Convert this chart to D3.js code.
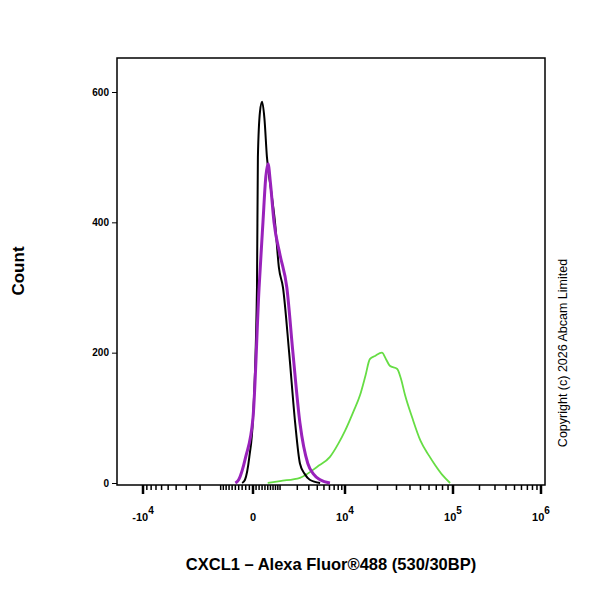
<!DOCTYPE html><html><head><script src="https://cdn.jsdelivr.net/npm/d3@7"></script>
<style>body{margin:0;background:#fff}</style></head><body><svg id="c" width="600" height="600"></svg><script>
const blackSeries=[[-300,0],[-220,5],[-100,40],[0,100],[130,300],[160,500],[230,570],[300,585],[380,560],[470,500],[620,450],[780,400],[950,330],[1140,300],[1470,200],[1850,92],[2200,30],[2600,14],[3100,5],[4400,0]];
const purpleSeries=[[-500,0],[-400,5],[-200,40],[0,100],[200,300],[330,400],[430,470],[510,490],[600,460],[740,400],[1000,350],[1340,300],[1700,200],[2200,92],[2900,30],[3500,14],[4400,5],[6100,0]];
const greenSeries=[[500,0],[1000,3],[2200,8],[4000,25],[6100,40],[8000,60],[10000,80],[12000,110],[13800,135],[15500,165],[17000,190],[19000,195],[22000,200],[24000,190],[26000,180],[30500,175],[33000,160],[36000,135],[42000,100],[50000,65],[60000,42],[68000,28],[80000,12],[94000,0]];
const yTicks=[0,200,400,600];
const xMajor=[-1e4,0,1e4,1e5,1e6];
const xLabels=["-10","0","10","10","10"];
const xExp=["4","","4","5","6"];
const c=1000, T=v=>Math.asinh(v/c);
const svg=d3.select("#c");
const L=117,R=545,Tp=58,B=485;
const xs=d3.scaleLinear().domain([T(-1.25e4),T(-1e4),0,T(1e4),T(1e5),T(1e6),T(1.1e6)]).range([117,143,253,345,453,541,545]);
const X=v=>xs(T(v));
const y=d3.scaleLinear().domain([0,600]).range([483,92]);
svg.append("rect").attr("x",L).attr("y",Tp).attr("width",R-L).attr("height",B-Tp).attr("fill","none").attr("stroke","#000").attr("stroke-width",1.5);
const line=d3.line().x(d=>X(d[0])).y(d=>y(d[1])).curve(d3.curveMonotoneX);
[[greenSeries,"#66dd44",1.8],[blackSeries,"#000",2],[purpleSeries,"#9922bb",3]].forEach(([d,col,w])=>svg.append("path").attr("d",line(d)).attr("fill","none").attr("stroke",col).attr("stroke-width",w));
const ya=svg.append("g").attr("transform",`translate(${L},0)`).call(d3.axisLeft(y).tickValues(yTicks).tickSize(5));
ya.select(".domain").remove();
ya.selectAll("text").attr("font-family","Arial").attr("font-size",10).attr("font-weight","bold");
let minors=[];
for(let k=1;k<=9;k++){minors.push(-k*1000);minors.push(k*1000);}
for(let e=4;e<6;e++)for(let k=2;k<=9;k++)minors.push(k*Math.pow(10,e));
for(let k=1;k<10;k++){minors.push(k*100);minors.push(-k*100);}
const g=svg.append("g");
minors.forEach(v=>g.append("line").attr("x1",X(v)).attr("x2",X(v)).attr("y1",B).attr("y2",B+5).attr("stroke","#000").attr("stroke-width",1.5));
xMajor.forEach((v,i)=>{g.append("line").attr("x1",X(v)).attr("x2",X(v)).attr("y1",B).attr("y2",B+9).attr("stroke","#000").attr("stroke-width",2.5);
 const t=g.append("text").attr("x",X(v)).attr("y",B+36).attr("text-anchor","middle").attr("font-family","Arial").attr("font-size",11).attr("font-weight","bold").text(xLabels[i]);
 if(xExp[i])t.append("tspan").attr("dy",-7).attr("font-size",10).text(xExp[i]);});
svg.append("text").attr("transform","translate(24,271) rotate(-90)").attr("text-anchor","middle").attr("font-family","Arial").attr("font-size",17).attr("font-weight","bold").text("Count");
svg.append("text").attr("x",331).attr("y",570).attr("text-anchor","middle").attr("font-family","Arial").attr("font-size",16.5).attr("font-weight","bold").text("CXCL1 – Alexa Fluor®488 (530/30BP)");
svg.append("text").attr("transform","translate(567,353) rotate(-90)").attr("text-anchor","middle").attr("font-family","Arial").attr("font-size",12.5).text("Copyright (c) 2026 Abcam Limited");
</script></body></html>
